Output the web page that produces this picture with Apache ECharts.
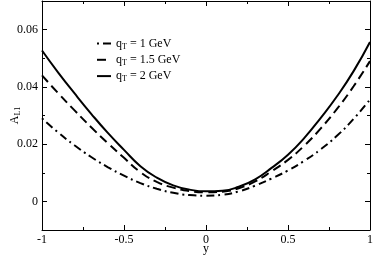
<!DOCTYPE html>
<html>
<head>
<meta charset="utf-8">
<script src="https://cdn.jsdelivr.net/npm/echarts@6/dist/echarts.min.js"></script>
<style>html,body{margin:0;padding:0;background:#fff}#c{width:374px;height:256px}</style>
</head>
<body>
<div id="c"></div>
<script>
const yVals = [-1,-0.9,-0.8,-0.7,-0.6,-0.5,-0.4,-0.3,-0.2,-0.1,0,0.1,0.2,0.3,0.4,0.5,0.6,0.7,0.8,0.9,1];
const qT1  = [0.0290,0.0240,0.0195,0.0155,0.0120,0.0090,0.0064,0.0044,0.0030,0.0022,0.0020,0.0023,0.0035,0.0055,0.0080,0.0108,0.0142,0.0182,0.0230,0.0288,0.0356];
const qT15 = [0.0440,0.0377,0.0317,0.0259,0.0204,0.0152,0.0102,0.0068,0.0048,0.0036,0.0032,0.0034,0.0046,0.0070,0.0105,0.0145,0.0195,0.0255,0.0324,0.0402,0.0490];
const qT2  = [0.0527,0.0449,0.0376,0.0306,0.0240,0.0180,0.0123,0.0083,0.0056,0.0041,0.0035,0.0037,0.0051,0.0077,0.0117,0.0163,0.0222,0.0292,0.0368,0.0455,0.0557];
const seriesNames = ['qT1','qT15','qT2'];
const legendLabels = {qT1:'1 GeV', qT15:'1.5 GeV', qT2:'2 GeV'};
const xMajor = [-1,-0.5,0,0.5,1];
const yMajor = [0,0.02,0.04,0.06];

const FONT = 'Liberation Serif';
const black = '#000';
const rich = {
  a:{fontFamily:FONT,fontSize:12,color:black},
  s:{fontFamily:FONT,fontSize:8,color:black,padding:[6,0,0,0]}
};
function fmtNum(v){ return String(Math.round(v*100)/100); }

function mkGrid(){ return {left:42,right:4,top:1,bottom:26,containLabel:false,outerBoundsMode:'none'}; }
function xAx(gi,pos,major){
  return {type:'value',gridIndex:gi,position:pos,min:-1,max:1,interval:0.25,
    axisLine:{show:!major,onZero:false,lineStyle:{color:black,width:1}},
    axisTick:major?{show:true,inside:true,length:5,customValues:xMajor,lineStyle:{color:black}}:{show:true,inside:true,length:3,lineStyle:{color:black}},
    axisLabel:(!major && pos==='bottom')?{show:true,customValues:xMajor,formatter:fmtNum,color:black,fontFamily:FONT,fontSize:12,margin:4}:{show:false},
    splitLine:{show:false},
    name:(!major && pos==='bottom')?'y':'',nameLocation:'middle',nameGap:13,nameMoveOverlap:false,
    nameTextStyle:{fontFamily:FONT,fontSize:12,color:black}};
}
function yAx(gi,pos,major){
  return {type:'value',gridIndex:gi,position:pos,min:-0.01,max:0.07,interval:0.01,
    axisLine:{show:!major,onZero:false,lineStyle:{color:black,width:1}},
    axisTick:major?{show:true,inside:true,length:5,customValues:yMajor,lineStyle:{color:black}}:{show:true,inside:true,length:3,lineStyle:{color:black}},
    axisLabel:(!major && pos==='left')?{show:true,customValues:yMajor,formatter:fmtNum,color:black,fontFamily:FONT,fontSize:12,margin:4}:{show:false},
    splitLine:{show:false},
    name:(!major && pos==='left')?'{a|A}{s|L1}':'',nameLocation:'middle',nameGap:20,nameRotate:90,nameMoveOverlap:false,
    nameTextStyle:{rich:rich}};
}
const dashStyles = {qT1:[8,4,2,4], qT15:[9,5], qT2:'solid'};
const dashOffsets = {qT1:12, qT15:0, qT2:0};
const dataMap = {qT1:qT1,qT15:qT15,qT2:qT2};

const chart = echarts.init(document.getElementById('c'),null,{renderer:'canvas'});
chart.setOption({
  animation:false,
  backgroundColor:'#fff',
  grid:[mkGrid(), mkGrid()],
  xAxis:[xAx(0,'bottom',false),xAx(0,'top',false),xAx(1,'bottom',true),xAx(1,'top',true)],
  yAxis:[yAx(0,'left',false),yAx(0,'right',false),yAx(1,'left',true),yAx(1,'right',true)],
  legend:{
    show:true,orient:'vertical',left:96,top:37.5,padding:0,itemWidth:14,itemHeight:10,itemGap:3.3,
    data:seriesNames.map(function(n){
      return {name:n,lineStyle:{color:black,width:2,type:dashStyles[n],dashOffset:dashOffsets[n]}};
    }),
    itemStyle:{opacity:0,color:'rgba(0,0,0,0)',borderWidth:0},
    formatter:function(n){return '{a|q}{s|T}{a| = '+legendLabels[n]+'}';},
    textStyle:{rich:rich}
  },
  series:seriesNames.map(function(n){
    return {name:n,type:'line',xAxisIndex:0,yAxisIndex:0,smooth:true,showSymbol:false,symbol:'none',
      data:yVals.map(function(x,i){return [x,dataMap[n][i]];}),
      lineStyle:{color:black,width:2,type:dashStyles[n],dashOffset:dashOffsets[n]},
      itemStyle:{color:black}};
  })
});
</script>
</body>
</html>
